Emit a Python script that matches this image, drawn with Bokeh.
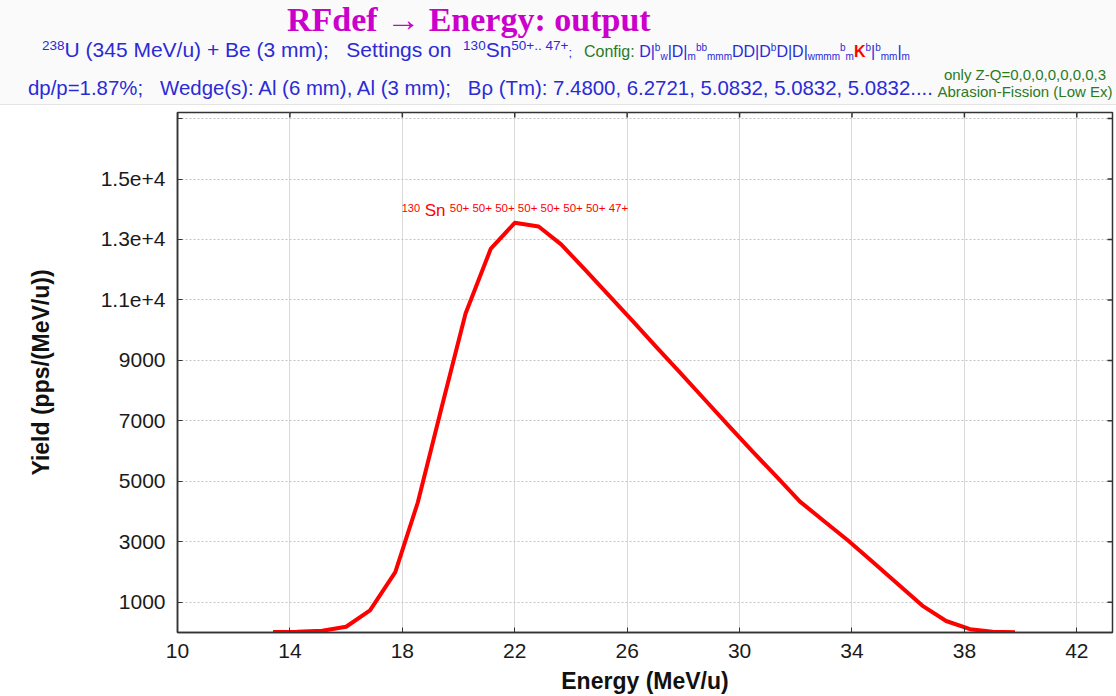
import numpy as np
from bokeh.plotting import figure
from bokeh.models import Div, Label, FixedTicker, Range1d
from bokeh.layouts import column
from bokeh.embed import file_html
from bokeh.resources import INLINE

# ---------------- data ----------------
energy = [13.4, 14.25, 15.15, 16.0, 16.85, 17.75, 18.55, 19.4, 20.25, 21.15,
          22.0, 22.85, 23.65, 24.5, 25.35, 26.2, 27.05, 27.9, 28.75, 29.6,
          30.45, 31.3, 32.15, 33.0, 33.85, 34.7, 35.6, 36.5, 37.35, 38.2,
          39.0, 39.8]
yield_values = [15, 25, 60, 190, 730, 2000, 4300, 7450, 10550, 12700,
                13550, 13430, 12840, 12000, 11150, 10300, 9430, 8580, 7715, 6850,
                6000, 5170, 4330, 3690, 3050, 2365, 1630, 890, 380, 110,
                25, 5]
x_ticks = [10, 14, 18, 22, 26, 30, 34, 38, 42]
y_ticks = [1000, 3000, 5000, 7000, 9000, 11000, 13000, 15000, 17000]
y_tick_labels = ["1000", "3000", "5000", "7000", "9000", "1.1e+4", "1.3e+4", "1.5e+4", ""]
isotope_mass = "130"
isotope_name = "Sn"
charge_states = ["50+", "50+", "50+", "50+", "50+", "50+", "50+", "47+"]

X_MIN, X_MAX = 10, 43.27
Y_MIN, Y_MAX = 0, 17200

BLUE = "#2B2BD6"
GREEN = "#2A7A1E"
SANS = "'Liberation Sans', Arial, sans-serif"
SERIF = "'Liberation Serif', 'Times New Roman', serif"


def sup(t, size=13.5, shift=7):
    return f'<span style="font-size:{size}px;vertical-align:{shift}px;">{t}</span>'


def sub(t, size=10, shift=-3):
    return f'<span style="font-size:{size}px;vertical-align:{shift}px;">{t}</span>'


def cfg_sup(t):
    return sup(t, 10, 6)


def cfg_sub(t):
    return sub(t, 10, -3)


config_html = (
    f'<span style="color:{GREEN};">Config: </span>'
    f'<span style="color:{BLUE};">D|{cfg_sup("b")}{cfg_sub("w")}|D|{cfg_sub("m")}{cfg_sup("bb")}{cfg_sub("mmm")}'
    f'DD|D{cfg_sup("b")}D|D|{cfg_sub("wmmm")}{cfg_sup("b")}{cfg_sub("m")}</span>'
    f'<span style="color:#FF0000;font-weight:bold;">K</span>'
    f'<span style="color:{BLUE};">{cfg_sup("b")}|{cfg_sup("b")}{cfg_sub("mm")}|{cfg_sub("m")}</span>'
)

line2 = (f'{sup("238")}U (345 MeV/u) + Be (3 mm);&nbsp;&nbsp; Settings on&nbsp; '
         f'{sup("130")}Sn{sup("50+.. 47+")}{sub(";", 13, 0)}')
line3 = ('dp/p=1.87%;&nbsp;&nbsp; Wedge(s): Al (6 mm), Al (3 mm);&nbsp;&nbsp; '
         'B&rho; (Tm): 7.4800, 6.2721, 5.0832, 5.0832, 5.0832....')

header_html = f'''
<div style="position:relative;width:1116px;height:105px;background:#FAFAFA;
            border-bottom:1px solid #E4E4E4;box-sizing:border-box;overflow:hidden;font-family:{SANS};">
  <div style="position:absolute;left:287px;top:3px;line-height:1;white-space:nowrap;
              font-family:{SERIF};font-weight:bold;font-size:34px;color:#CC00CC;">RFdef &rarr; Energy: output</div>
  <div style="position:absolute;left:42px;top:39px;line-height:1;white-space:nowrap;
              font-size:21px;color:{BLUE};">{line2}</div>
  <div style="position:absolute;left:584px;top:43px;line-height:1;white-space:nowrap;
              font-size:16px;">{config_html}</div>
  <div style="position:absolute;left:28px;top:78px;line-height:1;white-space:nowrap;
              font-size:20.4px;color:{BLUE};">{line3}</div>
  <div style="position:absolute;left:935px;top:67px;width:180px;line-height:1;white-space:nowrap;
              text-align:center;font-size:15px;color:{GREEN};">only Z-Q=0,0,0,0,0,0,0,3</div>
  <div style="position:absolute;left:935px;top:84px;width:180px;line-height:1;white-space:nowrap;
              text-align:center;font-size:15px;color:{GREEN};">Abrasion-Fission (Low Ex)</div>
</div>
'''

header = Div(text=header_html, width=1116, height=105, margin=(0, 0, 0, 0))

# ---------------- plot ----------------
p = figure(width=1116, height=591, x_range=Range1d(X_MIN, X_MAX), y_range=Range1d(Y_MIN, Y_MAX),
           output_backend="svg", toolbar_location=None,
           min_border_left=177, min_border_right=4, min_border_top=7, min_border_bottom=62,
           background_fill_color="white", border_fill_color="white", margin=(0, 0, 0, 0))

p.xgrid.ticker = FixedTicker(ticks=x_ticks)
p.ygrid.ticker = FixedTicker(ticks=y_ticks)
p.xgrid.grid_line_color = "#DADADA"
p.xgrid.grid_line_width = 1
p.ygrid.grid_line_color = "#C4C4C4"
p.ygrid.grid_line_dash = "2 2"
p.ygrid.grid_line_width = 1

p.line(energy, yield_values, line_color="#FF0000", line_width=4, line_join="round")

AX = "#333333"
for ax in (p.xaxis[0], p.yaxis[0]):
    ax.major_tick_in = 5
    ax.major_tick_out = 0
    ax.minor_tick_line_color = None
    ax.axis_line_color = AX
    ax.axis_line_width = 1.5
    ax.major_tick_line_color = AX
    ax.major_label_text_font = "Liberation Sans"
    ax.major_label_text_font_size = "21px"
    ax.major_label_text_color = "#1a1a1a"
    ax.axis_label_text_font = "Liberation Sans"
    ax.axis_label_text_font_size = "23px"
    ax.axis_label_text_font_style = "bold"
    ax.axis_label_text_color = "#111111"

p.xaxis[0].ticker = FixedTicker(ticks=x_ticks)
p.xaxis[0].axis_label = "Energy (MeV/u)"
p.xaxis[0].major_label_standoff = 11
p.xaxis[0].axis_label_standoff = 7

p.yaxis[0].ticker = FixedTicker(ticks=y_ticks)
p.yaxis[0].major_label_overrides = {t: lab for t, lab in zip(y_ticks, y_tick_labels)}
p.yaxis[0].axis_label = "Yield (pps/(MeV/u))"
p.yaxis[0].major_label_standoff = 12
p.yaxis[0].axis_label_standoff = 44

# mirrored inward ticks on the top and right edges (dash markers clipped by the frame)
p.scatter(x_ticks, [Y_MAX] * len(x_ticks), marker="dash", angle=np.pi / 2, size=10,
          line_color=AX, line_width=1.5)
p.scatter([X_MAX] * len(y_ticks), y_ticks, marker="dash", size=10,
          line_color=AX, line_width=1.5)

p.outline_line_color = AX
p.outline_line_width = 1.5

# peak annotation centred above the maximum
i_peak = int(np.argmax(yield_values))
px, py = energy[i_peak], yield_values[i_peak]
p.add_layout(Label(x=px, y=py, x_offset=-113, y_offset=15, text=isotope_mass,
                   text_font="Liberation Sans", text_font_size="11px", text_color="#FF0000",
                   text_baseline="middle", text_align="left"))
p.add_layout(Label(x=px, y=py, x_offset=-90, y_offset=12, text=isotope_name,
                   text_font="Liberation Sans", text_font_size="17px", text_color="#FF0000",
                   text_baseline="middle", text_align="left"))
p.add_layout(Label(x=px, y=py, x_offset=-65, y_offset=15, text=" ".join(charge_states),
                   text_font="Liberation Sans", text_font_size="11.5px", text_color="#FF0000",
                   text_baseline="middle", text_align="left"))

layout = column(header, p, spacing=0, margin=(0, 0, 0, 0))
open("out.html", "w").write(file_html(layout, INLINE))
